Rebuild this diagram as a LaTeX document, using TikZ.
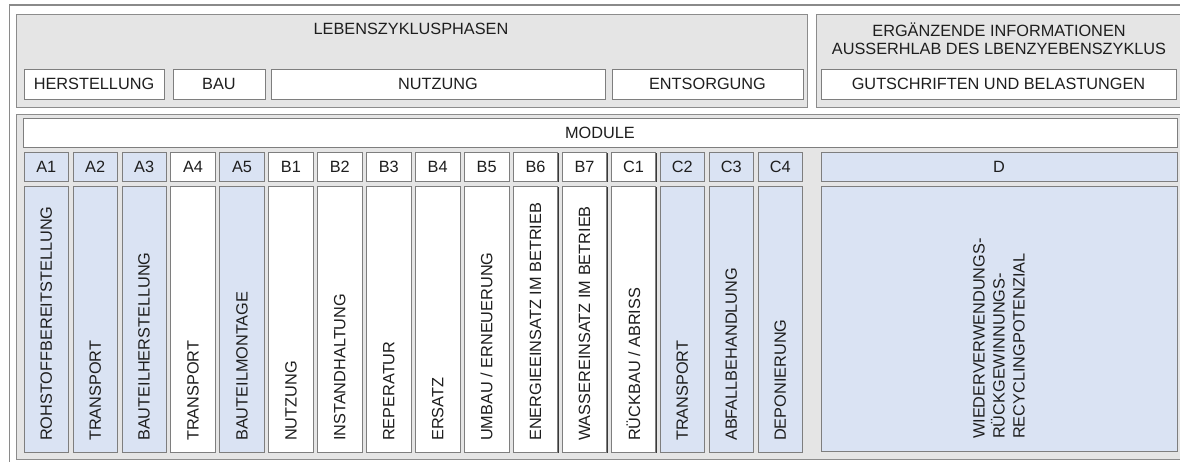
\documentclass[tikz,border=0pt]{standalone}
\usepackage{fontspec}
\setmainfont{Liberation Sans}
\usetikzlibrary{shadows}

\definecolor{inkgray}{HTML}{1E1E1E}
\definecolor{panelgray}{HTML}{E5E5E5}
\definecolor{panelline}{HTML}{8C8C8C}
\definecolor{boxline}{HTML}{7E7E7E}
\definecolor{boxshade}{HTML}{3A3A3A}
\definecolor{modblue}{HTML}{DAE3F3}
\definecolor{framegray}{HTML}{8A8A8A}

% box given by its top-left and bottom-right corners
\newcommand{\cornerbox}[7]{%
  \node[#1, anchor=north west, minimum width={(#5)-(#3)}, minimum height={(#6)-(#4)}] (#2) at (#3,#4) {#7};}

\begin{document}
\begin{tikzpicture}[x=1pt, y=-1pt,
  font=\fontsize{16.3pt}{19pt}\selectfont,
  panel/.style={fill=panelgray, draw=panelline, line width=1pt, inner sep=0pt, outer sep=0pt},
  plainbox/.style={fill=white, draw=boxline, line width=0.7pt, inner sep=0pt, outer sep=0pt,
    text=inkgray,
    drop shadow={shadow xshift=0.9pt, shadow yshift=-0.9pt, fill=boxshade, opacity=1}},
  bluebox/.style={plainbox, fill=modblue},
  title/.style={text=inkgray, inner sep=0pt, align=center},
  vlabel/.style={text=inkgray, inner sep=0pt, rotate=90, anchor=west}]

\useasboundingbox (0,0) rectangle (1180,461);

% outer frame
\draw[framegray, line width=1.2pt, fill=white] (9.5,5) rectangle (1192,472);

% panels
\cornerbox{panel}{phases}{16}{14}{807}{107}{}
\cornerbox{panel}{extra}{816}{14}{1184}{107}{}
\cornerbox{panel}{modpanel}{16}{114}{1184}{459}{}

% panel titles
\node[title] (phasestitle) at (411,29) {LEBENSZYKLUSPHASEN};
\node[title, font=\fontsize{16.3pt}{18pt}\selectfont] (extratitle) at (999,39)
  {ERGÄNZENDE INFORMATIONEN\\AUSSERHLAB DES LBENZYEBENSZYKLUS};

% phase boxes
\cornerbox{plainbox}{herst}{24}{69}{164}{99}{HERSTELLUNG}
\cornerbox{plainbox}{bau}{173}{69}{265}{99}{BAU}
\cornerbox{plainbox}{nutz}{271}{69}{605}{99}{NUTZUNG}
\cornerbox{plainbox}{ents}{612}{69}{803}{99}{ENTSORGUNG}
\cornerbox{plainbox}{guts}{821}{69}{1176}{99}{GUTSCHRIFTEN UND BELASTUNGEN}

% module bar
\cornerbox{plainbox}{module}{23}{118}{1177}{147}{MODULE}

% module columns
\foreach \lab/\fc/\txt [count=\i from 0] in {
  A1/modblue/ROHSTOFFBEREITSTELLUNG,
  A2/modblue/TRANSPORT,
  A3/modblue/BAUTEILHERSTELLUNG,
  A4/white/TRANSPORT,
  A5/modblue/BAUTEILMONTAGE,
  B1/white/NUTZUNG,
  B2/white/INSTANDHALTUNG,
  B3/white/REPERATUR,
  B4/white/ERSATZ,
  B5/white/{UMBAU / ERNEUERUNG},
  B6/white/ENERGIEEINSATZ IM BETRIEB,
  B7/white/WASSEREINSATZ IM BETRIEB,
  C1/white/{RÜCKBAU / ABRISS},
  C2/modblue/TRANSPORT,
  C3/modblue/ABFALLBEHANDLUNG,
  C4/modblue/DEPONIERUNG}
{
  \pgfmathsetmacro\cx{24+48.93*\i+22.25}
  \node[plainbox, fill=\fc, minimum width=44.5pt, minimum height=29pt] (h\lab) at (\cx,166.5) {\lab};
  \node[plainbox, fill=\fc, minimum width=44.5pt, minimum height=266pt] (c\lab) at (\cx,319) {};
  \node[vlabel] (t\lab) at ([yshift=11pt]c\lab.south) {\txt};
}

% module D
\cornerbox{bluebox}{hD}{821}{152}{1177}{181}{D}
\cornerbox{bluebox}{cD}{821}{186}{1177}{451}{}
\node[vlabel, align=left, font=\fontsize{16.3pt}{20pt}\selectfont] (tD) at ([yshift=12pt]cD.south)
  {WIEDERVERWENDUNGS-\\RÜCKGEWINNUNGS-\\RECYCLINGPOTENZIAL};

\end{tikzpicture}
\end{document}
